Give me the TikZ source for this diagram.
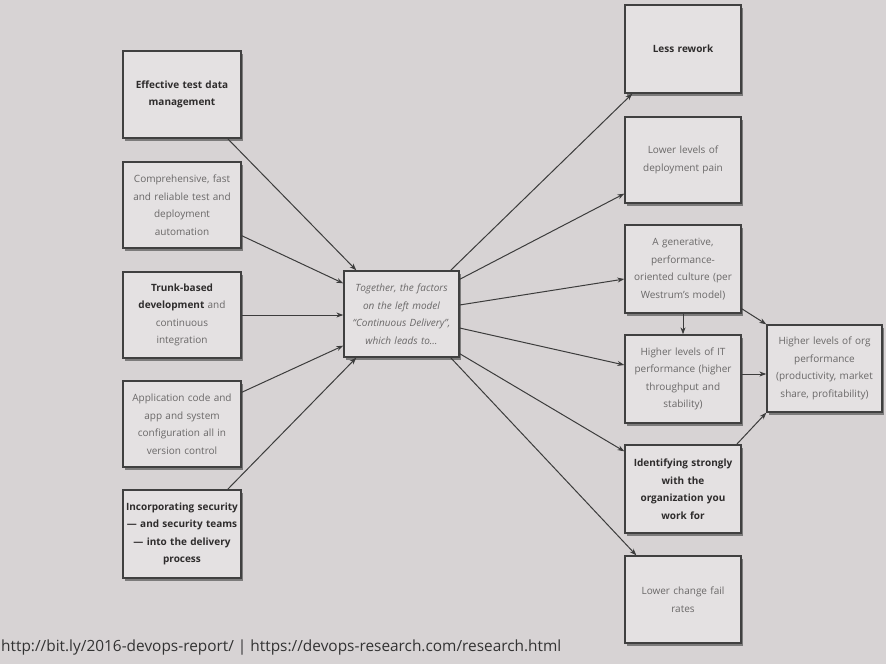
\documentclass[tikz,border=0pt]{standalone}
\usepackage{fontspec}
\setmainfont{Open Sans}
\usetikzlibrary{shadows,arrows.meta,calc}
\definecolor{bgcol}{HTML}{D7D3D4}
\definecolor{boxfill}{HTML}{E4E1E2}
\definecolor{boxline}{HTML}{404040}
\definecolor{txtreg}{HTML}{6A6868}
\definecolor{txtbold}{HTML}{2E2C2C}
\definecolor{arrowcol}{HTML}{3C3C3C}
\tikzset{
  card/.style={draw=boxline, line width=1.3pt, fill=boxfill, inner sep=1pt,
    minimum width=118pt, minimum height=87pt, text width=116pt, align=center,
    text=txtreg,
    font=\fontsize{10}{17.5}\selectfont,
    drop shadow={shadow xshift=2pt, shadow yshift=-3pt, opacity=0.55, fill=black!80}},
  conn/.style={draw=arrowcol, line width=1pt, -{Stealth[length=7pt,width=5pt]}}
}
\newcommand{\bx}[1]{\textcolor{txtbold}{\textbf{#1}}}
\begin{document}
\begin{tikzpicture}[x=1pt,y=-1pt]
\fill[bgcol] (0,0) rectangle (886,664);
\useasboundingbox (0,0) rectangle (886,664);

% left column
\node[card] (l1) at (182,94.5) {\bx{Effective test data\\management}};
\node[card, minimum height=86pt] (l2) at (182,205) {Comprehensive, fast\\and reliable test and\\deployment\\automation};
\node[card, minimum height=86pt] (l3) at (182,315) {\bx{Trunk-based}\\\bx{development} and\\continuous\\integration};
\node[card, minimum height=86pt] (l4) at (182,424) {Application code and\\app and system\\configuration all in\\version control};
\node[card, minimum height=88pt] (l5) at (182,534) {\bx{Incorporating security}\\\bx{--- and security teams}\\\bx{--- into the delivery}\\\bx{process}};

% center
\node[card, minimum width=115pt, minimum height=86pt, text width=113pt] (c) at (401.5,314)
  {\itshape Together, the factors\\on the left model\\``Continuous Delivery'',\\which leads to\dots};

% right column
\node[card, minimum width=116pt, minimum height=88pt, text width=114pt] (r1) at (683,49) {\bx{Less rework}};
\node[card, minimum width=116pt, minimum height=86pt, text width=114pt] (r2) at (683,160) {Lower levels of\\deployment pain};
\node[card, minimum width=116pt, minimum height=88pt, text width=114pt] (r3) at (683,269) {A generative,\\performance-\\oriented culture (per\\Westrum's model)};
\node[card, minimum width=116pt, minimum height=88pt, text width=114pt] (r4) at (683,379) {Higher levels of IT\\performance (higher\\throughput and\\stability)};
\node[card, minimum width=116pt, minimum height=88pt, text width=114pt] (r5) at (683,489) {\bx{Identifying strongly}\\\bx{with the}\\\bx{organization you}\\\bx{work for}};
\node[card, minimum width=116pt, minimum height=87pt, text width=114pt] (r6) at (683,599.5) {Lower change fail\\rates};

% far right
\node[card, minimum width=115pt, minimum height=87pt, text width=113pt] (o) at (824.5,368.5)
  {Higher levels of org\\performance\\(productivity, market\\share, profitability)};

% left to center
\draw[conn] ([xshift=-14pt]l1.south east) -- ([xshift=13pt]c.north west);
\draw[conn] ([yshift=13pt]l2.south east) -- ([yshift=-13pt]c.north west);
\draw[conn] (l3.east) -- (l3.east -| c.west);
\draw[conn] ([yshift=-12pt]l4.north east) -- ([yshift=12pt]c.south west);
\draw[conn] ([xshift=-14pt]l5.north east) -- ([xshift=13pt]c.south west);

% center to right
\draw[conn] ([xshift=-9pt]c.north east) -- ([xshift=8pt]r1.south west);
\draw[conn] ([yshift=-9pt]c.north east) -- ([yshift=10pt]r2.south west);
\draw[conn] ([yshift=9pt]c.east) -- ([yshift=-10pt]r3.west);
\draw[conn] ([yshift=-14pt]c.east) -- ([yshift=14pt]r4.west);
\draw[conn] ([yshift=4pt]c.south east) -- ([yshift=-7pt]r5.north west);
\draw[conn] ([xshift=-9pt]c.south east) -- ([xshift=12pt]r6.north west);

% right-side links
\draw[conn] (r3.south) -- (r4.north);
\draw[conn] ([yshift=5pt]r3.south east) -- (o.north west);
\draw[conn] ([yshift=5pt]r4.east) -- ([yshift=5pt]r4.east -| o.west);
\draw[conn] ([xshift=-5pt]r5.north east) -- (o.south west);

% footer
\node[anchor=base west, inner sep=0pt, text=black!80, font=\fontsize{15.4}{18}\selectfont] (foot) at (1,651)
  {http://bit.ly/2016-devops-report/ | https://devops-research.com/research.html};
\end{tikzpicture}
\end{document}
